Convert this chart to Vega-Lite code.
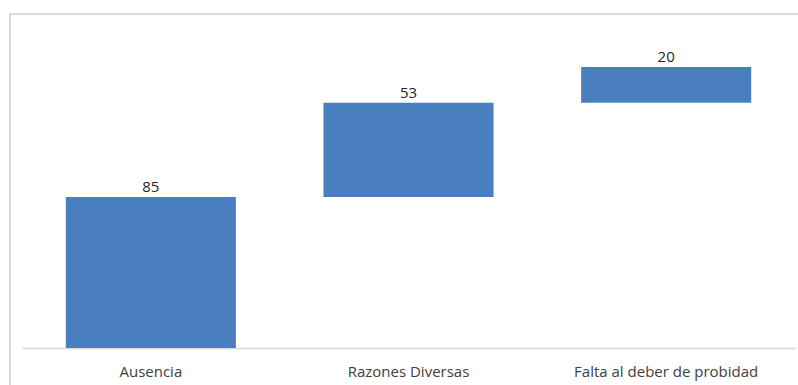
{
  "$schema": "https://vega.github.io/schema/vega-lite/v6.json",
  "width": 800,
  "height": 380,
  "padding": {"left": 10, "top": 14, "right": 0, "bottom": 0},
  "autosize": {"type": "none"},
  "background": "white",
  "view": {"stroke": "#d9d9d9", "strokeWidth": 2},
  "config": {"font": "Open Sans"},
  "data": {
    "values": [
      {"category": "Ausencia", "start": 0, "end": 85, "value": 85},
      {"category": "Razones Diversas", "start": 85, "end": 138, "value": 53},
      {"category": "Falta al deber de probidad", "start": 138, "end": 158, "value": 20}
    ]
  },
  "encoding": {
    "x": {
      "field": "category",
      "type": "nominal",
      "sort": null,
      "scale": {"range": [12, 785], "paddingInner": 0.34, "paddingOuter": 0.17},
      "axis": {
        "title": null,
        "labelAngle": 0,
        "labelFontSize": 15,
        "labelColor": "#404040",
        "labelPadding": 16,
        "labelLimit": 0,
        "labelOverlap": false,
        "ticks": false,
        "domainColor": "#d9d9d9",
        "domainWidth": 1.5,
        "offset": -46
      }
    }
  },
  "layer": [
    {
      "mark": {"type": "bar", "color": "#4a7fbf"},
      "encoding": {
        "y": {
          "field": "start",
          "type": "quantitative",
          "scale": {"domain": [0, 180], "range": [334, 14]},
          "axis": null
        },
        "y2": {"field": "end"}
      }
    },
    {
      "mark": {"type": "text", "baseline": "bottom", "dy": -2, "fontSize": 15, "color": "#262626"},
      "encoding": {
        "y": {"field": "end", "type": "quantitative"},
        "text": {"field": "value", "type": "quantitative"}
      }
    }
  ]
}
